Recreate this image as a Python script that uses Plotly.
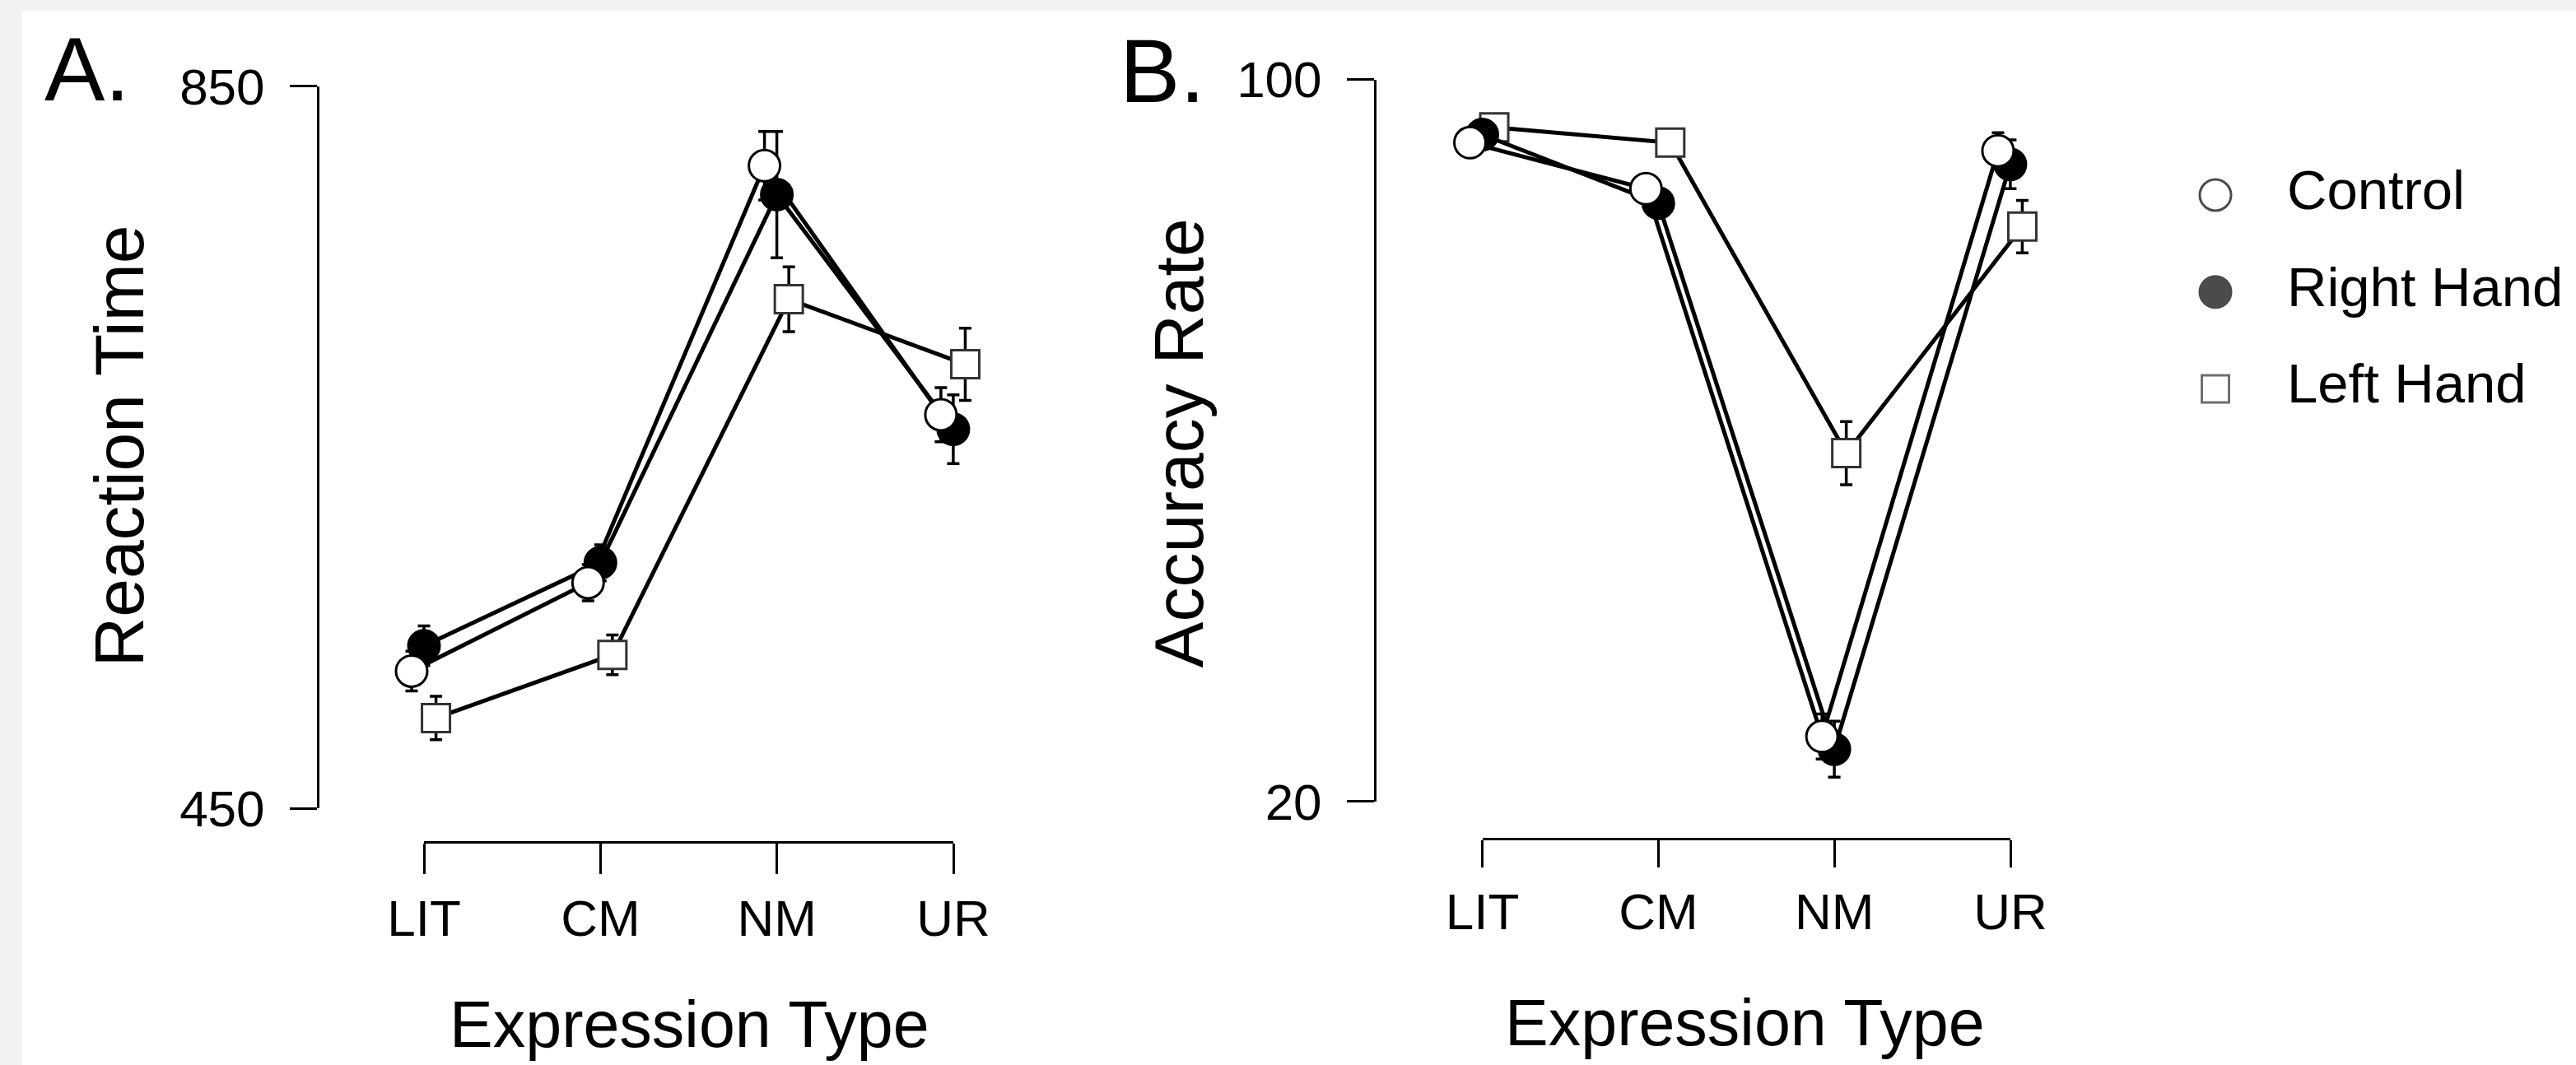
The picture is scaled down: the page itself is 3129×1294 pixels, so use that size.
import plotly.graph_objects as go

W, H = 3129, 1294
FONT = "Liberation Sans, Arial, sans-serif"

categories = ["LIT", "CM", "NM", "UR"]
series_names = ["Control", "Right Hand", "Left Hand"]

# Panel A: Reaction Time (ms)
rt_control = [526, 575, 806, 668]
rt_right = [540, 586, 790, 660]
rt_left = [500, 535, 732, 696]
rt_control_err = [11, 10, 19, 15]
rt_right_err = [11, 10, 35, 19]
rt_left_err = [12, 11, 18, 20]

# Panel B: Accuracy Rate (%)
acc_control = [93.0, 87.9, 27.2, 92.1]
acc_right = [93.9, 86.3, 25.8, 90.6]
acc_left = [94.7, 93.0, 58.6, 83.7]
acc_control_err = [0.8, 0.9, 2.5, 2.0]
acc_right_err = [0.8, 1.0, 3.1, 2.7]
acc_left_err = [0.6, 0.7, 3.5, 2.9]

rt_ticks = [450, 850]
acc_ticks = [20, 100]

# styling
dodge = [-0.07, 0.0, 0.068]
symbols = ["circle", "circle", "square"]
fills = ["white", "black", "white"]
edge_colors = ["black", "black", "#333333"]
marker_sizes = [38, 38, 34]
legend_sizes = [38, 38, 33]


def px(x):
    return x / W


def py(y):
    return 1 - y / H


idx = list(range(len(categories)))
fig = go.Figure()

panels = [
    ("x", "y", [(rt_control, rt_control_err), (rt_right, rt_right_err), (rt_left, rt_left_err)]),
    ("x2", "y2", [(acc_control, acc_control_err), (acc_right, acc_right_err), (acc_left, acc_left_err)]),
]

for xa, ya, series in panels:
    for k in [2, 1, 0]:
        vals, errs = series[k]
        fig.add_trace(go.Scatter(
            x=[i + dodge[k] for i in idx], y=vals, xaxis=xa, yaxis=ya,
            name=series_names[k], mode="lines+markers",
            line=dict(color="black", width=5),
            marker=dict(symbol=symbols[k], size=marker_sizes[k], color=fills[k],
                        line=dict(color=edge_colors[k], width=3)),
            error_y=dict(type="data", array=errs, color="black", thickness=3.5, width=7.5),
            showlegend=False, cliponaxis=False, hoverinfo="skip",
        ))

# invisible helpers so the category axes are drawn
fig.add_trace(go.Scatter(x=idx, y=rt_control, xaxis="x3", yaxis="y", mode="markers",
                         marker=dict(opacity=0), showlegend=False, hoverinfo="skip"))
fig.add_trace(go.Scatter(x=idx, y=acc_control, xaxis="x4", yaxis="y2", mode="markers",
                         marker=dict(opacity=0), showlegend=False, hoverinfo="skip"))

# custom legend
fig.add_trace(go.Scatter(
    x=[0] * len(series_names), y=series_names, xaxis="x5", yaxis="y5", mode="markers",
    marker=dict(symbol=symbols, size=legend_sizes, color=fills,
                line=dict(color=edge_colors, width=3)),
    showlegend=False, hoverinfo="skip", cliponaxis=False,
))
fig.add_trace(go.Scatter(
    x=[1] * len(series_names), y=series_names, xaxis="x5", yaxis="y5", mode="text",
    text=series_names, textposition="middle right",
    textfont=dict(family=FONT, size=67, color="black"),
    showlegend=False, hoverinfo="skip", cliponaxis=False,
))

axis_common = dict(showgrid=False, zeroline=False, showline=True, linecolor="black",
                   linewidth=3, ticks="outside", tickcolor="black", tickwidth=3,
                   tickfont=dict(family=FONT, size=62, color="black"), automargin=False)

fig.update_layout(
    width=W, height=H,
    margin=dict(l=0, r=0, t=0, b=0, pad=0),
    paper_bgcolor="#f2f2f2", plot_bgcolor="rgba(0,0,0,0)",
    showlegend=False,
    xaxis=dict(domain=[px(388), px(1230)], range=[(388 - 515) / 214.3, (1230 - 515) / 214.3],
               visible=False, fixedrange=True),
    yaxis=dict(domain=[py(982.1), py(104.8)], range=rt_ticks, anchor="x",
               tickvals=rt_ticks, ticklen=33, ticklabelstandoff=18, **axis_common),
    xaxis3=dict(domain=[px(515), px(1158)], range=[0, len(categories) - 1], anchor="free",
                position=py(1023.4), tickvals=idx, ticktext=categories, ticklen=37,
                **axis_common),
    xaxis2=dict(domain=[px(1672), px(2520)],
                range=[(1672 - 1800.5) / 213.8, (2520 - 1800.5) / 213.8],
                visible=False, fixedrange=True),
    yaxis2=dict(domain=[py(973.8), py(96.6)], range=acc_ticks, anchor="x2",
                tickvals=acc_ticks, ticklen=33, ticklabelstandoff=18, **axis_common),
    xaxis4=dict(domain=[px(1800.5), px(2442)], range=[0, len(categories) - 1], anchor="free",
                position=py(1019.2), tickvals=idx, ticktext=categories, ticklen=33,
                **axis_common),
    xaxis5=dict(domain=[px(2600), 1.0], range=[-(2691 - 2600) / 87, -(2691 - 2600) / 87 + 529 / 87],
                visible=False),
    yaxis5=dict(domain=[py(706), py(106)], type="category", categoryorder="array",
                categoryarray=series_names, range=[3.981, -1.112], visible=False, anchor="x5"),
    shapes=[dict(type="rect", xref="paper", yref="paper", x0=px(27), x1=1, y0=0, y1=py(13),
                 fillcolor="white", line=dict(width=0), layer="below")],
    annotations=[
        dict(text="A.", xref="paper", yref="paper", x=px(52), y=py(84), xanchor="left",
             yanchor="middle", showarrow=False, font=dict(family=FONT, size=110, color="black")),
        dict(text="B.", xref="paper", yref="paper", x=px(1466), y=py(85), xanchor="right",
             yanchor="middle", showarrow=False, font=dict(family=FONT, size=110, color="black")),
        dict(text="Reaction Time", xref="paper", yref="paper", x=px(144), y=py(542.5),
             textangle=-90, showarrow=False, xanchor="center", yanchor="middle",
             font=dict(family=FONT, size=84, color="black")),
        dict(text="Accuracy Rate", xref="paper", yref="paper", x=px(1432), y=py(538.6),
             textangle=-90, showarrow=False, xanchor="center", yanchor="middle",
             font=dict(family=FONT, size=84, color="black")),
        dict(text="Expression Type", xref="paper", yref="paper", x=px(837), y=py(1244),
             showarrow=False, xanchor="center", yanchor="middle",
             font=dict(family=FONT, size=79, color="black")),
        dict(text="Expression Type", xref="paper", yref="paper", x=px(2119), y=py(1242),
             showarrow=False, xanchor="center", yanchor="middle",
             font=dict(family=FONT, size=79, color="black")),
    ],
)

fig.write_html("out.html", config={"displayModeBar": False},
               post_script="document.body.style.margin='0';document.body.style.overflow='hidden';")
